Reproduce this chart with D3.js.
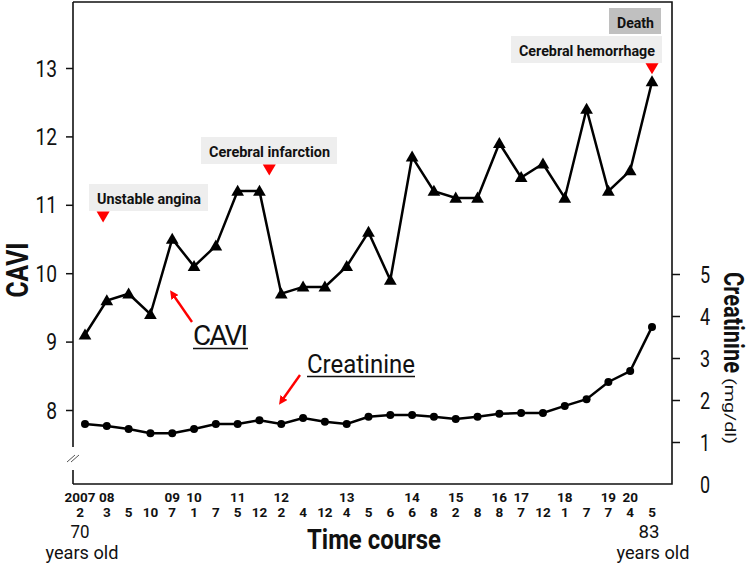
<!DOCTYPE html>
<html>
<head>
<meta charset="utf-8">
<script src="https://cdn.jsdelivr.net/npm/d3@7"></script>
<style>
  html, body { margin: 0; padding: 0; background: #fff; }
  svg { display: block; }
  text { font-family: Roboto, "DejaVu Sans", sans-serif; fill: #111; }
</style>
</head>
<body>
<svg id="chart" width="750" height="566"></svg>
<script>
// ---- data ----
const years  = ["2007","08","","","09","10","","11","","12","","","13","","","14","","15","","16","17","","18","","19","20",""];
const months = ["2","3","5","10","7","1","7","5","12","2","4","12","4","5","6","6","8","2","8","8","7","12","1","7","7","4","5"];
const cavi   = [9.1,9.6,9.7,9.4,10.5,10.1,10.4,11.2,11.2,9.7,9.8,9.8,10.1,10.6,9.9,11.7,11.2,11.1,11.1,11.9,11.4,11.6,11.1,12.4,11.2,11.5,12.8];
const creatinine = [1.43,1.38,1.31,1.21,1.21,1.31,1.43,1.43,1.52,1.43,1.57,1.48,1.43,1.6,1.64,1.64,1.6,1.55,1.6,1.67,1.69,1.69,1.86,2.02,2.43,2.69,3.74];
const caviTicks = [8,9,10,11,12,13];
const creatTicks = [0,1,2,3,4,5];
// clinical events: position on the time index and CAVI level of the red marker
const eventNames = ["Unstable angina","Cerebral infarction","Cerebral hemorrhage"];
const eventIndex = [0.83, 8.45, 26];
const eventLevel = [10.82, 11.51, 12.99];

// ---- helpers ----
function squeeze(t, k) {
  const w = t.node().getComputedTextLength();
  t.attr("textLength", w * k).attr("lengthAdjust", "spacingAndGlyphs");
  return t;
}
function fit(t, W) {
  t.attr("textLength", W).attr("lengthAdjust", "spacingAndGlyphs");
  return t;
}
function txt(parent, x, y, s, size, bold, anchor) {
  return parent.append("text").attr("x", x).attr("y", y)
    .attr("text-anchor", anchor || "start")
    .style("font-size", size + "px").style("font-weight", bold ? "bold" : "normal").text(s);
}

// ---- layout ----
const svg = d3.select("#chart");
const L = 73, R = 672, T = 2, B = 484;
const x = d3.scaleLinear().domain([0, cavi.length - 1]).range([85, 652]);
const yL = d3.scaleLinear().domain([8, 13]).range([410, 68]);
const yR = d3.scaleLinear().domain([0, 5]).range([B, 274]);
const g = svg.append("g");

// frame: top, right, bottom
g.append("path").attr("d", `M${L},${T}H${R}V${B}H${L}`)
  .attr("fill", "none").attr("stroke", "#111").attr("stroke-width", 1.6);
// left axis with break
g.append("line").attr("x1", L).attr("x2", L).attr("y1", T).attr("y2", 447).attr("stroke", "#111").attr("stroke-width", 1.6);
g.append("line").attr("x1", L).attr("x2", L).attr("y1", 470).attr("y2", B).attr("stroke", "#111").attr("stroke-width", 1.6);
[0, 4].forEach(o => {
  g.append("line").attr("x1", 67 + o).attr("y1", 462).attr("x2", 75 + o).attr("y2", 455)
    .attr("stroke", "#555").attr("stroke-width", 1);
});

// left axis
const la = g.append("g").attr("transform", `translate(${L},0)`)
  .call(d3.axisLeft(yL).tickValues(caviTicks).tickSize(7).tickFormat(""));
la.select(".domain").remove();
la.selectAll(".tick line").attr("stroke", "#111").attr("stroke-width", 1.5);
caviTicks.forEach(v => squeeze(txt(g, 57, yL(v) + 8.5, v, 24, false, "end"), 0.8));

// right axis
const ra = g.append("g").attr("transform", `translate(${R},0)`)
  .call(d3.axisRight(yR).tickValues(creatTicks.filter(v => v > 0)).tickSize(8).tickFormat(""));
ra.select(".domain").remove();
ra.selectAll(".tick line").attr("stroke", "#111").attr("stroke-width", 1.5);
creatTicks.forEach(v => squeeze(txt(g, 705, yR(v) + 8.5, v, 24, false, "middle"), 0.75));

// x labels
years.forEach((yv, i) => {
  const dx = i === 0 ? -5 : 0;
  if (yv) squeeze(txt(g, x(i) + dx, 502, yv, 13.5, true, "middle"), 1.0);
  squeeze(txt(g, x(i) + dx, 517, months[i], 13.5, true, "middle"), 1.0);
});
fit(txt(g, 80, 538, "70", 19, false, "middle"), 19);
fit(txt(g, 82, 559, "years old", 18, false, "middle"), 73);
fit(txt(g, 649, 538, "83", 19, false, "middle"), 21);
fit(txt(g, 653, 559, "years old", 18, false, "middle"), 73);
fit(txt(g, 374, 549, "Time course", 28, true, "middle"), 134);

// axis titles
fit(svg.append("text").attr("transform", "translate(28,270) rotate(-90)").attr("text-anchor", "middle")
  .style("font-size", "31px").style("font-weight", "bold").text("CAVI"), 55);
const rg = svg.append("g").attr("transform", "translate(724,0) rotate(90)");
fit(rg.append("text").attr("x", 272).attr("y", 0).style("font-size", "27px").style("font-weight", "bold").text("Creatinine"), 101);
fit(rg.append("text").attr("x", 378).attr("y", -1).style("font-size", "14px").text("(mg/dl)"), 66);

// ---- series ----
const line = (ys, arr) => d3.line().x((d, i) => x(i)).y(d => ys(d))(arr);
g.append("path").attr("d", line(yR, creatinine)).attr("fill", "none").attr("stroke", "#000").attr("stroke-width", 2.5);
g.append("path").attr("d", line(yL, cavi)).attr("fill", "none").attr("stroke", "#000").attr("stroke-width", 2.5);

g.selectAll("circle.cr").data(creatinine).join("circle").attr("class", "cr")
  .attr("cx", (d, i) => x(i)).attr("cy", d => yR(d)).attr("r", 4).attr("fill", "#000");

const tri = d3.symbol().type(d3.symbolTriangle).size(70);
g.selectAll("path.cv").data(cavi).join("path").attr("class", "cv")
  .attr("d", tri).attr("transform", (d, i) => `translate(${x(i)},${yL(d) + 1})`).attr("fill", "#000");

// ---- event annotations ----
const ev = svg.append("g");
const boxX = [89, 201, 511];
const boxY = [184, 137, 36];
const textW = [104, 121, 136];
eventNames.forEach((name, k) => {
  ev.append("rect").attr("x", boxX[k]).attr("y", boxY[k]).attr("width", textW[k] + 15).attr("height", 27).attr("fill", "#eeeeee");
  fit(txt(ev, boxX[k] + 8, boxY[k] + 20, name, 15.5, true, "start"), textW[k]);
  const cx = x(eventIndex[k]), cy = yL(eventLevel[k]);
  ev.append("path").attr("d", `M${cx - 6.5},${cy - 5.5}L${cx + 6.5},${cy - 5.5}L${cx},${cy + 5.5}Z`).attr("fill", "#ff0000");
});
ev.append("rect").attr("x", 609).attr("y", 8).attr("width", 52).attr("height", 26).attr("fill", "#c0c0c0");
fit(txt(ev, 617, 28, "Death", 15.5, true, "start"), 37);

// ---- series labels with red arrows ----
const defs = svg.append("defs");
defs.append("marker").attr("id", "ah").attr("viewBox", "0 0 10 10")
  .attr("refX", 2).attr("refY", 5).attr("markerWidth", 3.6).attr("markerHeight", 3.6).attr("orient", "auto")
  .append("path").attr("d", "M0,0L10,5L0,10Z").attr("fill", "#ff0000");
svg.append("line").attr("x1", 192).attr("y1", 322).attr("x2", 174).attr("y2", 296)
  .attr("stroke", "#ff0000").attr("stroke-width", 2.4).attr("marker-end", "url(#ah)");
svg.append("line").attr("x1", 300).attr("y1", 375).attr("x2", 283).attr("y2", 399)
  .attr("stroke", "#ff0000").attr("stroke-width", 2.4).attr("marker-end", "url(#ah)");

fit(txt(svg, 193, 345, "CAVI", 28, false, "start"), 55).attr("lengthAdjust", "spacing");
svg.append("line").attr("x1", 193).attr("x2", 248).attr("y1", 348.5).attr("y2", 348.5).attr("stroke", "#111").attr("stroke-width", 1.5);
fit(txt(svg, 307, 373, "Creatinine", 25, false, "start"), 108);
svg.append("line").attr("x1", 307).attr("x2", 415).attr("y1", 376.5).attr("y2", 376.5).attr("stroke", "#111").attr("stroke-width", 1.5);
</script>
</body>
</html>
